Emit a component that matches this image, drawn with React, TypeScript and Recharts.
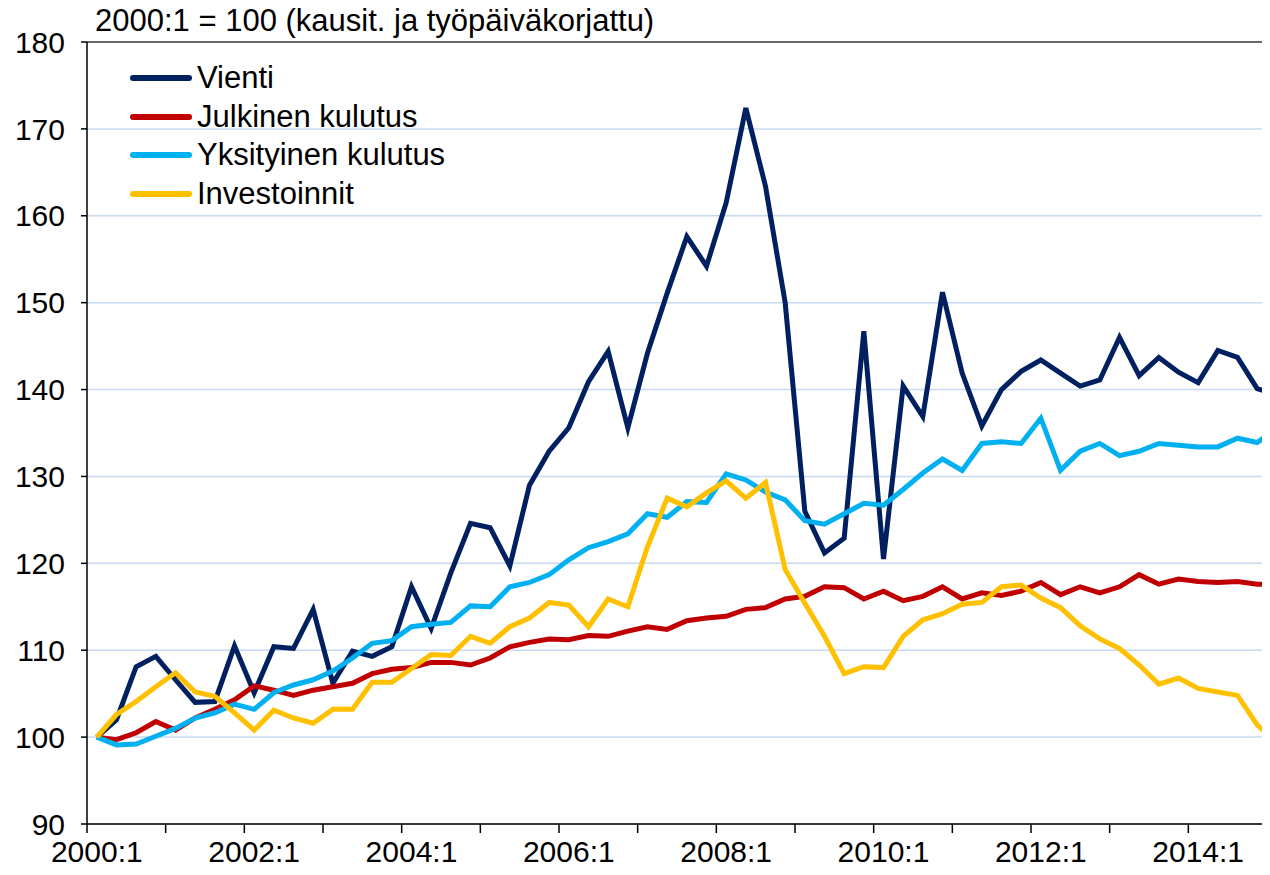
import React from "react";
import { LineChart, Line, XAxis, YAxis, CartesianGrid, ReferenceLine } from "recharts";

const years = [2000, 2001, 2002, 2003, 2004, 2005, 2006, 2007, 2008, 2009, 2010, 2011, 2012, 2013, 2014, 2015];
const quarters = years.flatMap((y) => [1, 2, 3, 4].map((q) => `${y}:${q}`)).slice(0, 61);

const vienti = [
  100, 102.0, 108.1, 109.3, 106.6, 104.0, 104.1, 110.5, 105.1, 110.4,
  110.2, 114.7, 106.2, 109.9, 109.3, 110.4, 117.3, 112.5, 118.9, 124.6,
  124.1, 119.7, 129.0, 132.9, 135.6, 140.9, 144.4, 135.6, 144.2, 151.1,
  157.6, 154.2, 161.5, 172.4, 163.4, 150.0, 126.0, 121.2, 122.9, 146.7,
  120.5, 140.4, 136.9, 151.2, 141.9, 135.8, 140.0, 142.1, 143.4, 141.9,
  140.4, 141.1, 146.0, 141.6, 143.7, 142.0, 140.8, 144.5, 143.7, 140.1,
  139.4,
];
const julkinen = [
  100, 99.7, 100.5, 101.8, 100.8, 102.2, 103.2, 104.3, 105.9, 105.4,
  104.8, 105.4, 105.8, 106.2, 107.3, 107.8, 108.0, 108.6, 108.6, 108.3,
  109.1, 110.4, 110.9, 111.3, 111.2, 111.7, 111.6, 112.2, 112.7, 112.4,
  113.4, 113.7, 113.9, 114.7, 114.9, 115.9, 116.2, 117.3, 117.2, 115.9,
  116.8, 115.7, 116.2, 117.3, 115.9, 116.6, 116.3, 116.8, 117.8, 116.4,
  117.3, 116.6, 117.3, 118.7, 117.6, 118.2, 117.9, 117.8, 117.9, 117.6,
  117.6,
];
const yksityinen = [
  100, 99.1, 99.2, 100.1, 101.0, 102.2, 102.8, 103.8, 103.2, 105.1,
  106.0, 106.6, 107.6, 109.1, 110.8, 111.1, 112.7, 113.0, 113.2, 115.1,
  115.0, 117.3, 117.8, 118.7, 120.4, 121.8, 122.5, 123.4, 125.7, 125.3,
  127.1, 127.0, 130.3, 129.6, 128.2, 127.3, 124.9, 124.5, 125.7, 126.9,
  126.7, 128.5, 130.4, 132.0, 130.7, 133.8, 134.0, 133.8, 136.7, 130.7,
  132.9, 133.8, 132.4, 132.9, 133.8, 133.6, 133.4, 133.4, 134.4, 133.9,
  135.5,
];
const investoinnit = [
  100, 102.6, 104.1, 105.8, 107.4, 105.2, 104.7, 102.8, 100.8, 103.1,
  102.2, 101.6, 103.2, 103.2, 106.3, 106.3, 107.9, 109.5, 109.4, 111.6,
  110.8, 112.7, 113.7, 115.5, 115.2, 112.7, 115.9, 115.0, 121.9, 127.5,
  126.5, 128.1, 129.5, 127.5, 129.3, 119.3, 115.4, 111.6, 107.3, 108.1,
  108.0, 111.6, 113.5, 114.2, 115.3, 115.5, 117.3, 117.5, 116.0, 114.9,
  112.8, 111.3, 110.2, 108.3, 106.1, 106.8, 105.6, 105.2, 104.8, 101.4,
  99.4,
];

const tickLabels = ["2000:1", "2002:1", "2004:1", "2006:1", "2008:1", "2010:1", "2012:1", "2014:1"];
const yearTicks = [-0.5, 3.5, 7.5, 11.5, 15.5, 19.5, 23.5, 27.5, 31.5, 35.5, 39.5, 43.5, 47.5, 51.5, 55.5, 59.5];
const yTicks = [90, 100, 110, 120, 130, 140, 150, 160, 170, 180];

const series = [
  { key: "vienti", name: "Vienti", color: "#002060" },
  { key: "julkinen", name: "Julkinen kulutus", color: "#C00000" },
  { key: "yksityinen", name: "Yksityinen kulutus", color: "#00B0F0" },
  { key: "investoinnit", name: "Investoinnit", color: "#FFC000" },
];

const data = quarters.map((q, i) => ({
  i,
  q,
  vienti: vienti[i],
  julkinen: julkinen[i],
  yksityinen: yksityinen[i],
  investoinnit: investoinnit[i],
}));

const W = 1270;
const H = 875;
const FONT = "'Liberation Sans', Arial, sans-serif";
const PLOT_LEFT = 87;
const PLOT_RIGHT = 1267;
const halfSlot = (PLOT_RIGHT - PLOT_LEFT) / 60 / 2;

const XTick = (props: any) => {
  const { x, y, index } = props;
  if (index % 2 !== 0) return <g />;
  const label = tickLabels[index / 2];
  if (!label) return <g />;
  return (
    <text x={x + halfSlot} y={y + 27} textAnchor="middle" fontSize={30} fill="#000" fontFamily={FONT}>
      {label}
    </text>
  );
};

export default function App() {
  return (
    <div style={{ position: "relative", width: W, height: H, margin: -8, background: "#fff", fontFamily: FONT, overflow: "hidden" }}>
      <LineChart width={W} height={H} data={data} margin={{ top: 42, right: W - PLOT_RIGHT, left: 0, bottom: 0 }}>
        <CartesianGrid vertical={false} stroke="#C6D9F1" strokeWidth={1.5} />
        <XAxis
          type="number"
          dataKey="i"
          domain={[-0.5, 59.5]}
          allowDataOverflow
          ticks={yearTicks}
          interval={0}
          height={51}
          tickSize={9}
          tick={<XTick />}
          axisLine={{ stroke: "#000", strokeWidth: 1.5 }}
          tickLine={{ stroke: "#000", strokeWidth: 1.5 }}
        />
        <YAxis
          domain={[90, 180]}
          ticks={yTicks}
          interval={0}
          width={PLOT_LEFT}
          tickSize={6}
          tickMargin={16}
          tick={{ fontSize: 30, fill: "#000", fontFamily: FONT }}
          axisLine={{ stroke: "#000", strokeWidth: 1.5 }}
          tickLine={{ stroke: "#000", strokeWidth: 1.5 }}
        />
        <ReferenceLine y={180} stroke="#404040" strokeWidth={1.5} />
        {series.map((s) => (
          <Line
            key={s.key}
            type="linear"
            dataKey={s.key}
            name={s.name}
            stroke={s.color}
            strokeWidth={5}
            dot={false}
            isAnimationActive={false}
          />
        ))}
      </LineChart>
      <div style={{ position: "absolute", left: 95, top: 3, fontSize: 31, color: "#000", whiteSpace: "nowrap" }}>
        2000:1 = 100 (kausit. ja työpäiväkorjattu)
      </div>
      <div style={{ position: "absolute", left: 130, top: 59 }}>
        {series.map((s) => (
          <div key={s.key} style={{ display: "flex", alignItems: "center", height: 38.5 }}>
            <div style={{ width: 62, height: 6, background: s.color, borderRadius: 3 }} />
            <span style={{ marginLeft: 5, fontSize: 31, color: "#000", whiteSpace: "nowrap" }}>{s.name}</span>
          </div>
        ))}
      </div>
    </div>
  );
}
